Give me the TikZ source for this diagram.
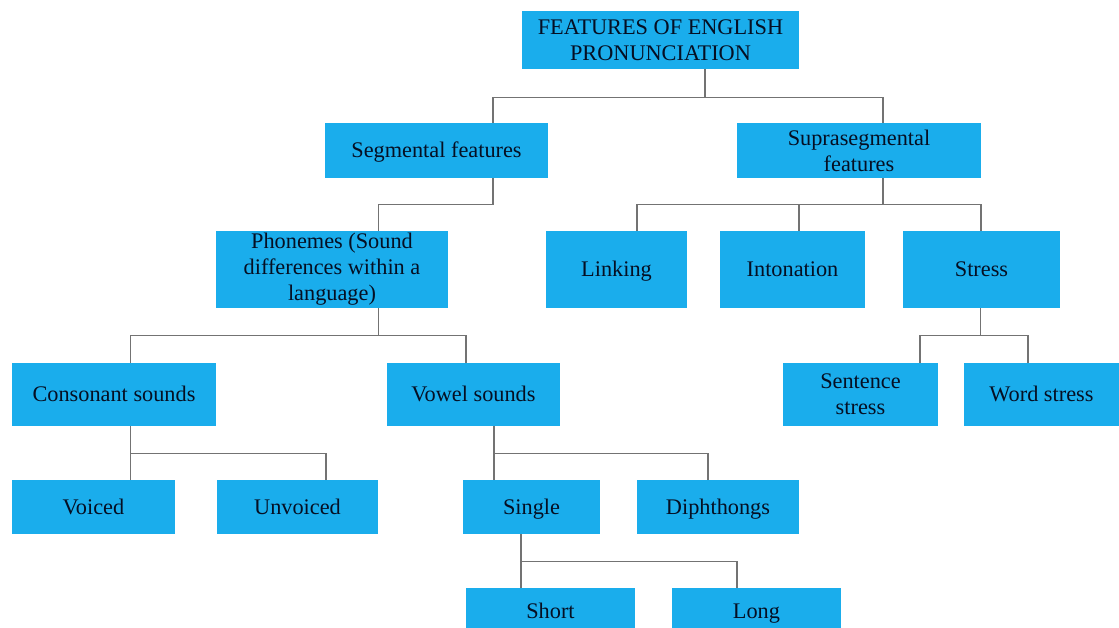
\documentclass[tikz,border=0pt]{standalone}
\usepackage{fontspec}
\setmainfont{Liberation Serif}
\usetikzlibrary{calc}
\definecolor{boxblue}{RGB}{26,173,236}
\definecolor{boxtext}{RGB}{5,15,35}
\definecolor{linegray}{RGB}{115,115,115}
\tikzset{
  box/.style={rectangle, fill=boxblue, text=boxtext, align=center, inner sep=0pt,
    font=\fontsize{22.3}{26}\selectfont},
  oneline/.style={text height=14.6pt, text depth=0pt},
  conn/.style={draw=linegray, line width=1.3pt}
}
\begin{document}
\begin{tikzpicture}[x=1pt,y=-1pt]
\clip (0,0) rectangle (1119,628);
\useasboundingbox (0,0) rectangle (1119,628);
\fill[white] (0,0) rectangle (1119,628);

\node[box, minimum width=277pt, minimum height=58pt] (root) at (660.5,40) {FEATURES OF ENGLISH\\PRONUNCIATION};
\node[box, oneline, minimum width=223pt, minimum height=55pt] (seg) at (436.5,150.5) {Segmental features};
\node[box, minimum width=244pt, minimum height=55pt] (supra) at (859,150.5) {Suprasegmental\\features};
\node[box, minimum width=232pt, minimum height=77pt] (phon) at (332,269.5) {Phonemes (Sound\\differences within a\\language)};
\node[box, oneline, minimum width=141pt, minimum height=77pt] (link) at (616.5,269.5) {Linking};
\node[box, oneline, minimum width=145pt, minimum height=77pt] (inton) at (792.5,269.5) {Intonation};
\node[box, oneline, minimum width=157pt, minimum height=77pt] (stress) at (981.5,269.5) {Stress};
\node[box, oneline, minimum width=204pt, minimum height=63pt] (cons) at (114,394.5) {Consonant sounds};
\node[box, oneline, minimum width=173pt, minimum height=63pt] (vowel) at (473.5,394.5) {Vowel sounds};
\node[box, minimum width=155pt, minimum height=63pt] (sent) at (860.5,394.5) {Sentence\\stress};
\node[box, oneline, minimum width=155pt, minimum height=63pt] (word) at (1041.5,394.5) {Word stress};
\node[box, oneline, minimum width=163pt, minimum height=54pt] (voiced) at (93.5,507) {Voiced};
\node[box, oneline, minimum width=161pt, minimum height=54pt] (unvoiced) at (297.5,507) {Unvoiced};
\node[box, oneline, minimum width=137pt, minimum height=54pt] (single) at (531.5,507) {Single};
\node[box, oneline, minimum width=162pt, minimum height=54pt] (diph) at (718,507) {Diphthongs};
\node[box, oneline, minimum width=169pt, minimum height=46pt] (short) at (550.5,611) {Short};
\node[box, oneline, minimum width=169pt, minimum height=46pt] (long) at (756.5,611) {Long};

% connectors
\draw[conn] ([xshift=44.5pt]root.south) -- ++(0,28) -| ([xshift=56.5pt]seg.north);
\draw[conn] ([xshift=44.5pt]root.south) -- ++(0,28) -| ([xshift=24pt]supra.north);

\draw[conn] ([xshift=56.5pt]seg.south) -- ++(0,26) -| ([xshift=46.5pt]phon.north);

\draw[conn] ([xshift=24pt]supra.south) -- ++(0,26) -| ([xshift=20.5pt]link.north);
\draw[conn] ([xshift=24pt]supra.south) -- ++(0,26) -| ([xshift=6.5pt]inton.north);
\draw[conn] ([xshift=24pt]supra.south) -- ++(0,26) -| ([xshift=-0.5pt]stress.north);

\draw[conn] ([xshift=46.5pt]phon.south) -- ++(0,27) -| ([xshift=16.5pt]cons.north);
\draw[conn] ([xshift=46.5pt]phon.south) -- ++(0,27) -| ([xshift=-7.5pt]vowel.north);

\draw[conn] ([xshift=-1pt]stress.south) -- ++(0,27) -| ([xshift=59.5pt]sent.north);
\draw[conn] ([xshift=-1pt]stress.south) -- ++(0,27) -| ([xshift=-13.5pt]word.north);

\draw[conn] ([xshift=16.5pt]cons.south) -- ++(0,27) -| ([xshift=37pt]voiced.north);
\draw[conn] ([xshift=16.5pt]cons.south) -- ++(0,27) -| ([xshift=28.5pt]unvoiced.north);

\draw[conn] ([xshift=20.5pt]vowel.south) -- ++(0,27) -| ([xshift=-37.5pt]single.north);
\draw[conn] ([xshift=20.5pt]vowel.south) -- ++(0,27) -| ([xshift=-10pt]diph.north);

\draw[conn] ([xshift=-10.5pt]single.south) -- ++(0,27) -| ([xshift=-29.5pt]short.north);
\draw[conn] ([xshift=-10.5pt]single.south) -- ++(0,27) -| ([xshift=-19.5pt]long.north);
\end{tikzpicture}
\end{document}
